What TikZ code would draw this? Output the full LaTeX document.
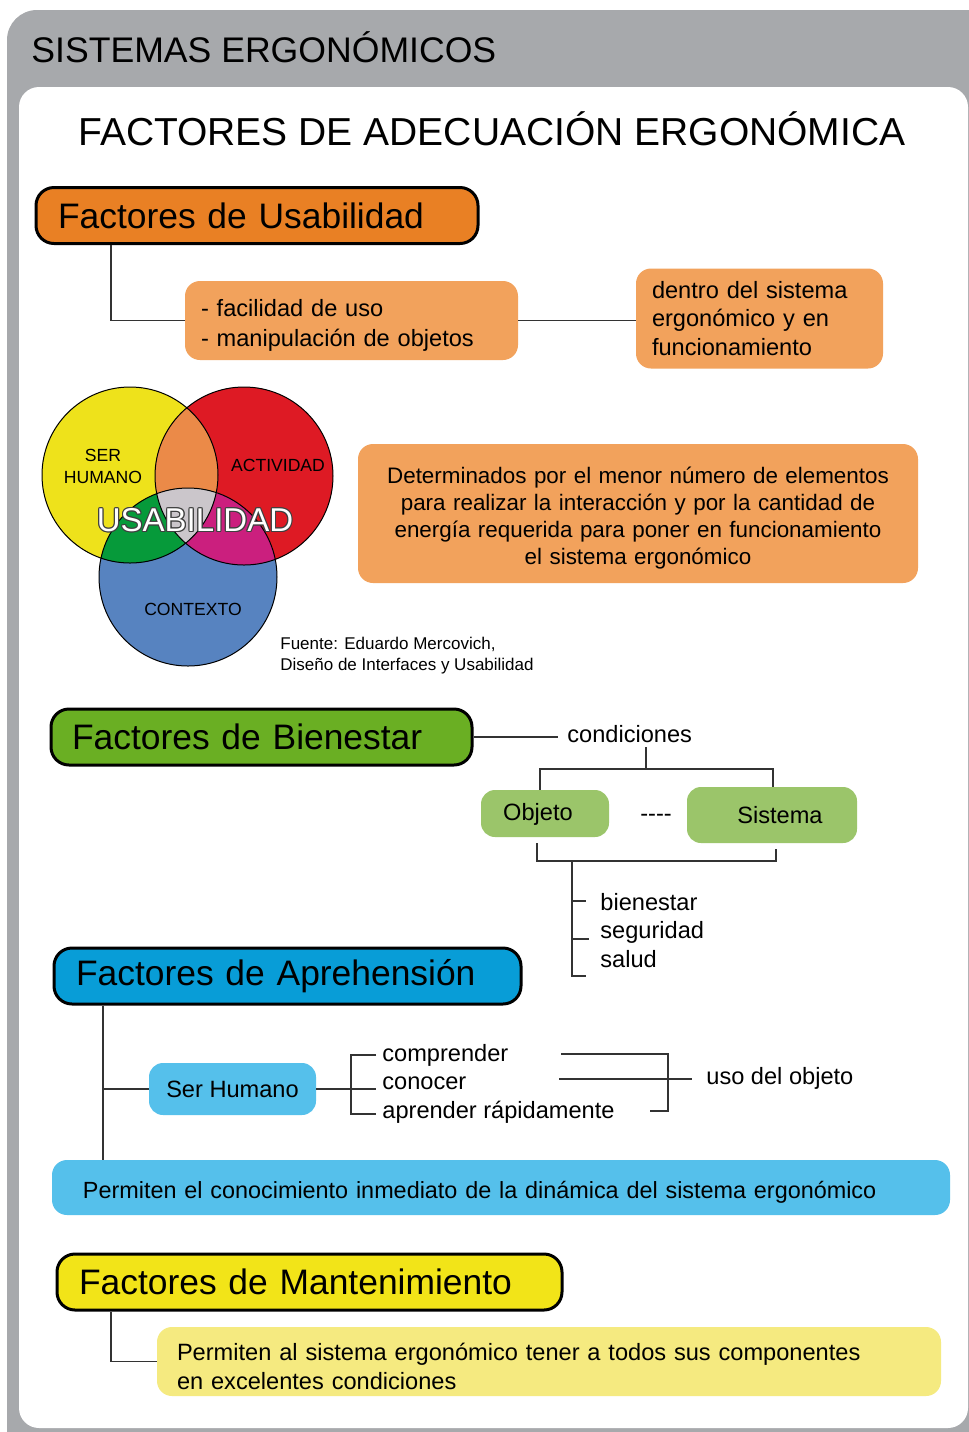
\documentclass[tikz,border=0pt]{standalone}
\usepackage{fontspec}
\setmainfont{Liberation Sans}
\newcommand{\fsz}[2]{\fontsize{#1}{#2}\selectfont}
\newcommand{\dn}[1]{\rule{0pt}{#1}}
\definecolor{framegray}{HTML}{A7A9AC}
\definecolor{linec}{HTML}{333333}
\definecolor{orH}{HTML}{E98024}
\definecolor{orL}{HTML}{F2A25C}
\definecolor{grH}{HTML}{6AAF23}
\definecolor{grL}{HTML}{9BC56A}
\definecolor{blH}{HTML}{089DD7}
\definecolor{blL}{HTML}{55C0EB}
\definecolor{yeH}{HTML}{F2E418}
\definecolor{yeL}{HTML}{F5EA80}
\definecolor{vyel}{HTML}{EEE21B}
\definecolor{vred}{HTML}{DE1A24}
\definecolor{vblu}{HTML}{5783C0}
\definecolor{vora}{HTML}{EB8A48}
\definecolor{vgrn}{HTML}{069A3A}
\definecolor{vmag}{HTML}{CB1F7E}
\definecolor{vgry}{HTML}{CBC6CB}
\begin{document}
\begin{tikzpicture}[x=0.5pt,y=-0.5pt,
  hdr/.style={draw=black, line width=1.5pt, rounded corners=9pt, inner xsep=11pt, inner ysep=0pt, minimum height=28pt, align=left, font=\fsz{17.7}{21}},
  sub/.style={rounded corners=7.5pt, inner ysep=0pt, align=left, font=\fsz{11.8}{15}},
  gbox/.style={rounded corners=7pt, inner sep=0pt, font=\fsz{11.8}{14}},
  lbl/.style={inner sep=0pt, anchor=west, text height=8.4pt, text depth=2.4pt, font=\fsz{11.8}{14}},
  venl/.style={inner sep=0pt, align=center, font=\fsz{8.8}{11}},
  conn/.style={draw=linec, line width=0.75pt},
]
\useasboundingbox (0,0) rectangle (969,1432);
\begin{scope}
\clip (0,0) rectangle (969,1432);
\fill[framegray, rounded corners=15pt] (7,10) rectangle (1010,1460);
\end{scope}
\fill[white, rounded corners=10pt] (19,87) rectangle (968,1428);

% titles
\node[anchor=base west, inner sep=0pt, font=\fsz{17.8}{20}] (t1) at (31,62) {SISTEMAS ERGONÓMICOS};
\node[anchor=base, inner sep=0pt, font=\fsz{19.5}{22}] (t2) at (492,145) {FACTORES DE ADECUACIÓN ERGONÓMICA};

% helper coordinates
\coordinate (xa) at (111,0);
\coordinate (xb) at (103,0);

% ---------- Usabilidad
\node[hdr, fill=orH, text width=199pt] (hu) at (257,215.5) {Factores de Usabilidad};
\node[sub, fill=orL, text width=150.5pt, inner xsep=8pt, minimum height=39.5pt] (u1) at (351.5,320.5) {\dn{13.5pt}- facilidad de uso\\- manipulación de objetos};
\node[sub, fill=orL, text width=107.5pt, inner xsep=8pt, minimum height=50pt, font=\fsz{11.8}{14.25}] (u2) at (759.5,318.5) {dentro del sistema\\ergonómico y en\\funcionamiento};
\node[sub, fill=orL, align=center, text width=270pt, inner xsep=5pt, minimum height=69.5pt, font=\fsz{11.2}{13.5}] (u3) at (638,513.5) {\dn{13pt}Determinados por el menor número de elementos\\para realizar la interacción y por la cantidad de\\energía requerida para poner en funcionamiento\\el sistema ergonómico};
\draw[conn] (hu.south -| xa) |- (u1.west);
\draw[conn] (u1.east) -- (u1.east -| u2.west);

% ---------- Venn
\fill[vyel] (130,475) circle[radius=44pt];
\fill[vred] (244,476) circle[radius=44.5pt];
\fill[vblu] (188,577) circle[radius=44.5pt];
\begin{scope}
\clip (244,476) circle[radius=44.5pt];
\fill[vmag] (188,577) circle[radius=44.5pt];
\end{scope}
\begin{scope}
\clip (130,475) circle[radius=44pt];
\fill[vora] (244,476) circle[radius=44.5pt];
\fill[vgrn] (188,577) circle[radius=44.5pt];
\clip (244,476) circle[radius=44.5pt];
\fill[vgry] (188,577) circle[radius=44.5pt];
\end{scope}
\draw[black, line width=0.5pt] (130,475) circle[radius=44pt];
\draw[black, line width=0.5pt] (244,476) circle[radius=44.5pt];
\draw[black, line width=0.5pt] (188,577) circle[radius=44.5pt];
\node[venl] (vsh) at (103,466) {SER\\HUMANO};
\node[venl] (vac) at (278,465) {ACTIVIDAD};
\node[venl] (vco) at (193,609) {CONTEXTO};
\coordinate (usac) at (195,520);
\foreach \dx/\dy [count=\i] in {-1/0,1/0,0/-1,0/1,-0.7/-0.7,0.7/0.7,-0.7/0.7,0.7/-0.7}
  \node[inner sep=0pt, font=\fsz{16.5}{18}, text=black!75] (usao\i) at ([xshift=\dx*0.6pt, yshift=\dy*0.6pt]usac) {USABILIDAD};
\node[inner sep=0pt, font=\fsz{16.5}{18}, text=white] (usa) at (usac) {USABILIDAD};
\node[anchor=north west, inner sep=0pt, align=left, font=\fsz{8.5}{10.5}] (fte) at (280,637) {Fuente: Eduardo Mercovich,\\Diseño de Interfaces y Usabilidad};

% ---------- Bienestar
\node[hdr, fill=grH, text width=189.5pt, inner xsep=10.5pt] (hb) at (261.5,737) {Factores de Bienestar};
\node[lbl, inner xsep=4.5pt] (cond) at (558,736) {condiciones};
\draw[conn] (hb.east) -- (hb.east -| cond.west);
\node[gbox, fill=grL, minimum width=64pt, minimum height=23.5pt] (obj) at (545,813.5) {\hspace{-7pt}\dn{9.5pt}Objeto};
\node[gbox, fill=grL, minimum width=85pt, minimum height=28pt] (sis) at (772,815) {\hspace{8pt}Sistema};
\node[lbl, anchor=center] (dsh) at (656,815) {-{}-{}-{}-};
\coordinate (bt) at (646,769);
\coordinate (bb) at (572,861);
\draw[conn] (cond.south -| bt) -- (bt);
\draw[conn] ([xshift=-2.5pt]obj.north) |- (bt) -| ([xshift=0.5pt]sis.north);
\draw[conn] ([xshift=-4pt,yshift=-3pt]obj.south) |- (bb) -| ([xshift=2pt,yshift=-3pt]sis.south);
\node[lbl] (ib) at (600,904) {bienestar};
\node[lbl] (is) at (600,932) {seguridad};
\node[lbl] (il) at (600,961) {salud};
\draw[conn] (bb) |- (586,976);
\draw[conn] (572,901) -- (586,901);
\draw[conn] (572,939) -- (589,939);

% ---------- Aprehension
\node[hdr, fill=blH, text width=211.5pt] (ha) at (287.5,976) {Factores de Aprehensión};
\node[sub, fill=blL, text width=418pt, inner xsep=15.5pt, minimum height=27.5pt, font=\fsz{11.7}{15}] (ab) at (501,1187.5) {\dn{13pt}Permiten el conocimiento inmediato de la dinámica del sistema ergonómico};
\node[gbox, fill=blL, minimum width=83.5pt, minimum height=26pt] (sh) at (232.5,1089) {Ser Humano};
\draw[conn] (ha.south -| xb) -- (ab.north -| xb);
\draw[conn] (sh.west) -- (sh.west -| xb);
\node[lbl] (ac) at (382,1055) {comprender};
\node[lbl] (ao) at (382,1083) {conocer};
\node[lbl] (ar) at (382,1112) {aprender rápidamente};
\draw[conn] (sh.east) -- (376,1089);
\draw[conn] (376,1055) -| (351,1114) -- (376,1114);
\node[lbl] (uso) at (706,1078) {uso del objeto};
\draw[conn] (561,1054) -| (668,1111) -- (650,1111);
\draw[conn] (559,1079) -- (692,1079);

% ---------- Mantenimiento
\node[hdr, fill=yeH, text width=230.5pt] (hm) at (309.5,1282) {Factores de Mantenimiento};
\node[sub, fill=yeL, text width=372pt, inner xsep=10pt, minimum height=34.5pt, font=\fsz{11.8}{14.5}] (mb) at (549,1361.5) {\dn{13.5pt}Permiten al sistema ergonómico tener a todos sus componentes\\en excelentes condiciones};
\draw[conn] (hm.south -| xa) |- (mb.west);
\end{tikzpicture}
\end{document}
